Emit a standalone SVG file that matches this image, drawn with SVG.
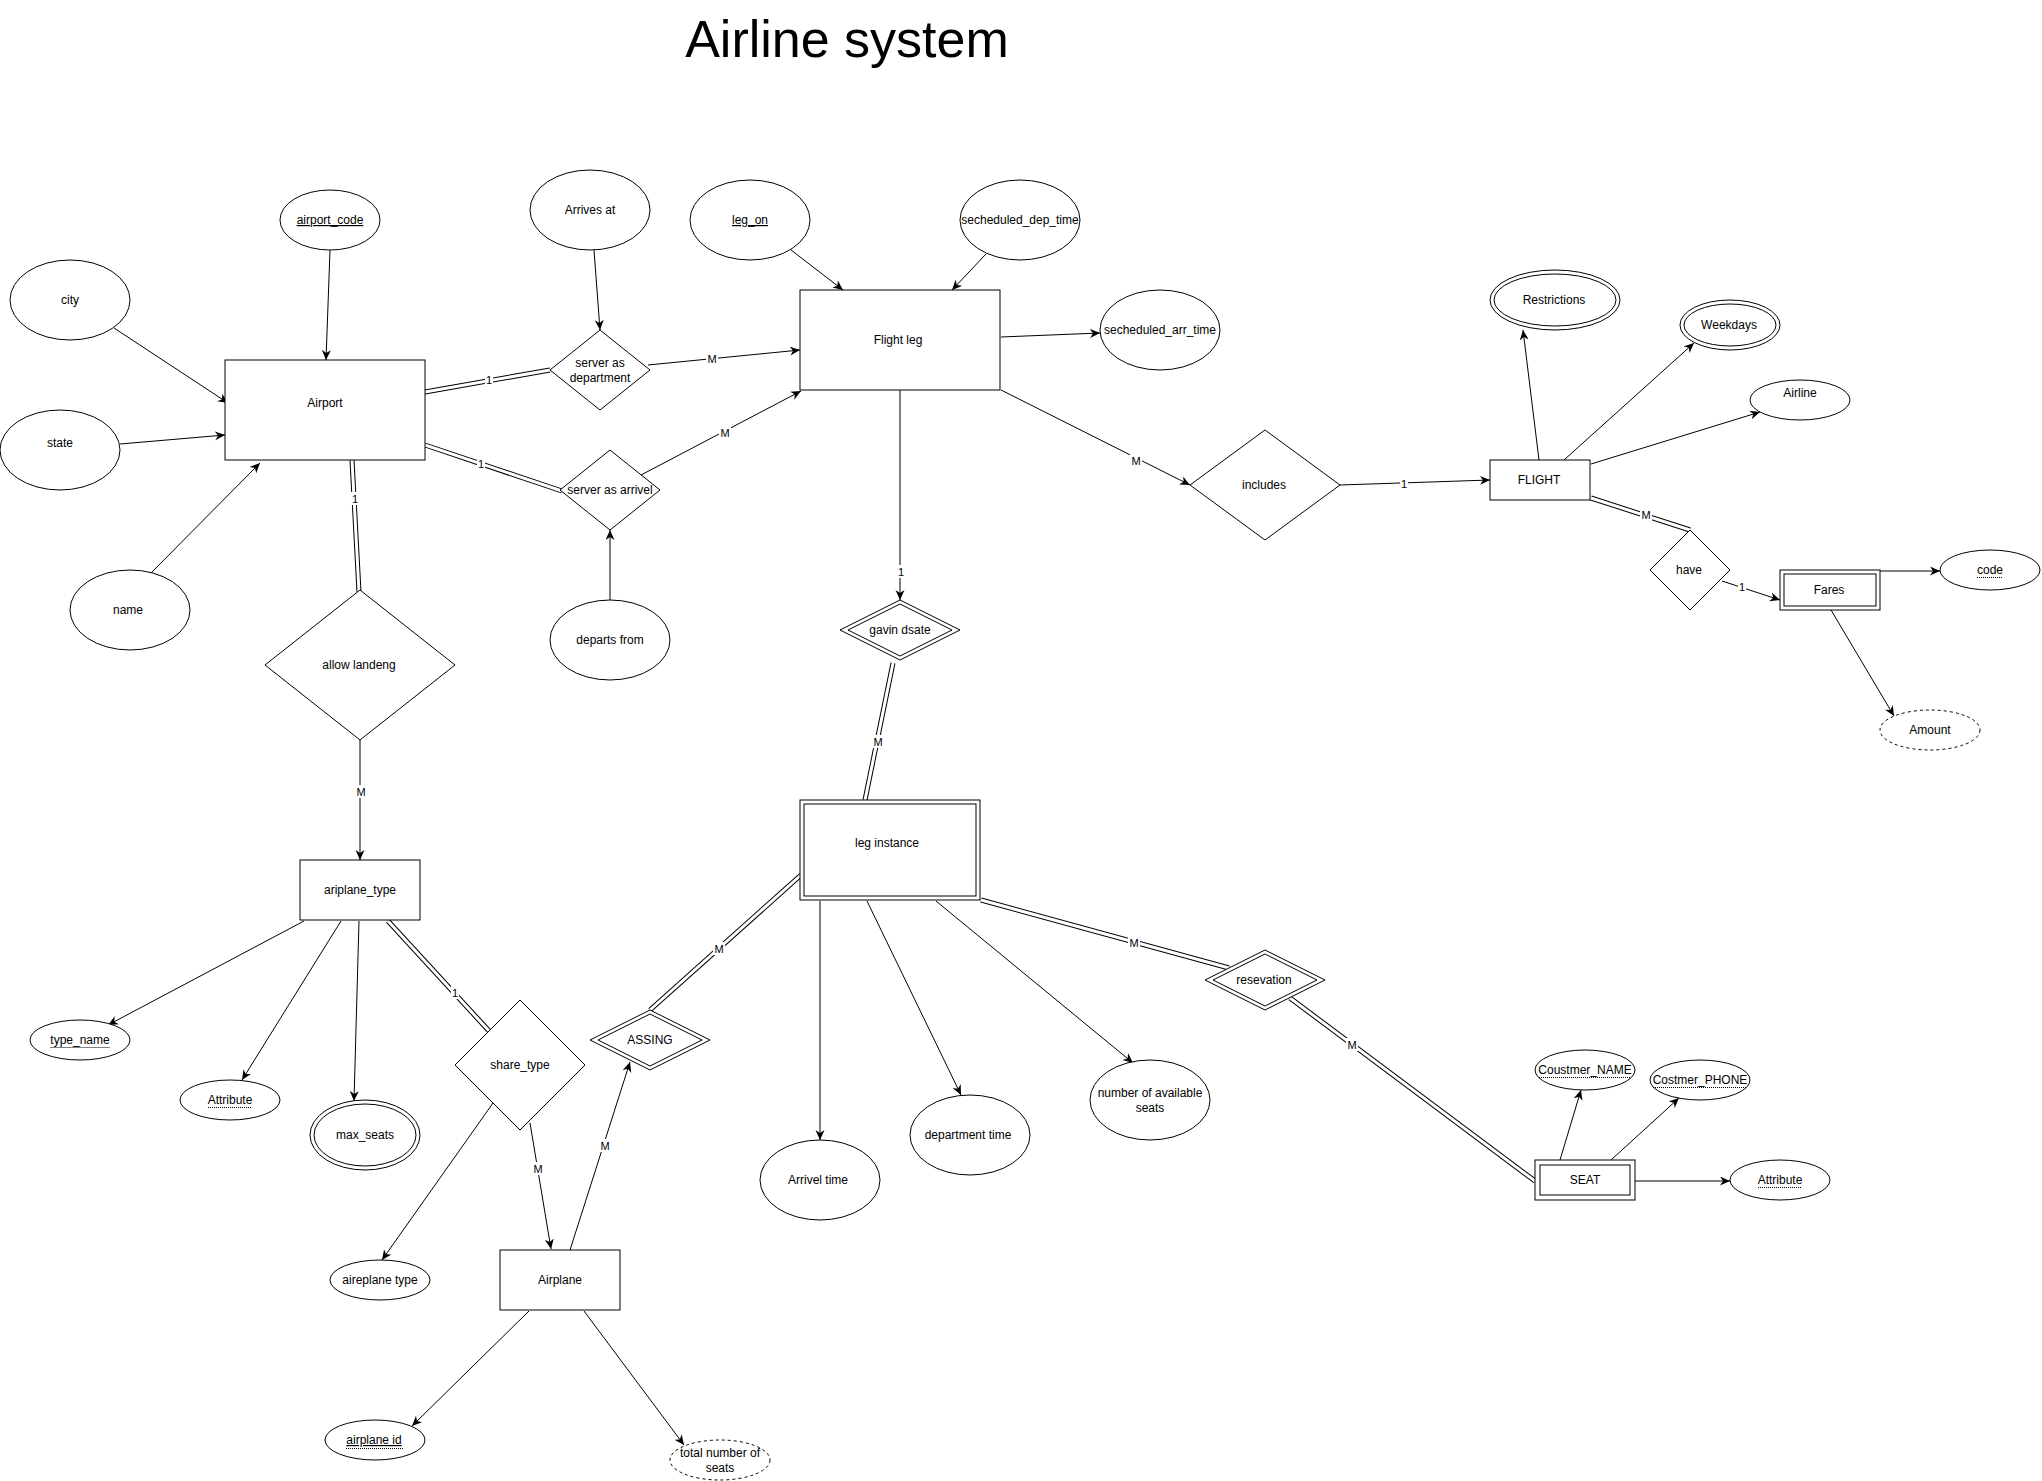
<svg xmlns="http://www.w3.org/2000/svg" width="2042" height="1481" viewBox="0 0 2042 1481">
<defs>
<marker id="arr" markerUnits="userSpaceOnUse" markerWidth="12" markerHeight="10" refX="10" refY="4.5" orient="auto">
<path d="M0,0 L10,4.5 L0,9 L3,4.5 Z" fill="#000"/>
</marker>
</defs>
<style>
text{font-family:"Liberation Sans",Arial,sans-serif;font-size:12px;fill:#000;text-anchor:middle}
.n{fill:#fff;stroke:#000;stroke-width:1}
.dash{stroke-dasharray:3,3}
.e{fill:none;stroke:#000;stroke-width:1}
.ea{fill:none;stroke:#000;stroke-width:1;marker-end:url(#arr)}
.dbo{fill:none;stroke:#000;stroke-width:5}
.dbi{fill:none;stroke:#fff;stroke-width:3}
.lb{fill:#fff}
.el{font-size:11px}
.ul{text-decoration:underline}
.dot{stroke:#000;stroke-width:1;stroke-dasharray:1,1}
.title{font-size:52px}
</style>
<rect x="0" y="0" width="2042" height="1481" fill="#fff"/>
<text class="title" x="847" y="57">Airline system</text>

<g id="connectors">
<!-- double lines -->
<path class="dbo" d="M425,392 L550,370"/><path class="dbi" d="M425,392 L550,370"/>
<path class="dbo" d="M425,445 L562,491"/><path class="dbi" d="M425,445 L562,491"/>
<path class="dbo" d="M352,460 L359,592"/><path class="dbi" d="M352,460 L359,592"/>
<path class="dbo" d="M1591,498 L1690,530"/><path class="dbi" d="M1591,498 L1690,530"/>
<path class="dbo" d="M388,921 L490,1032"/><path class="dbi" d="M388,921 L490,1032"/>
<path class="dbo" d="M650,1010 L801,875"/><path class="dbi" d="M650,1010 L801,875"/>
<path class="dbo" d="M893,663 L865,800"/><path class="dbi" d="M893,663 L865,800"/>
<path class="dbo" d="M981,900 L1229,968"/><path class="dbi" d="M981,900 L1229,968"/>
<path class="dbo" d="M1290,998 L1535,1181"/><path class="dbi" d="M1290,998 L1535,1181"/>
<!-- arrows -->
<path class="ea" d="M330,250 L326,360"/>
<path class="ea" d="M114,328 L228,403"/>
<path class="ea" d="M120,444 L225,435"/>
<path class="ea" d="M146,578 L260,463"/>
<path class="ea" d="M594,250 L600,330"/>
<path class="ea" d="M610,600 L610,530"/>
<path class="ea" d="M648,365 L800,350"/>
<path class="ea" d="M641,475 L801,391"/>
<path class="ea" d="M791,250 L843,290"/>
<path class="ea" d="M986,254 L952,290"/>
<path class="ea" d="M1001,337 L1100,333"/>
<path class="ea" d="M1001,390 L1190,485"/>
<path class="ea" d="M900,390 L900,600"/>
<path class="ea" d="M1340,485 L1490,480"/>
<path class="ea" d="M1539,460 L1523,330"/>
<path class="ea" d="M1564,460 L1694,343"/>
<path class="ea" d="M1591,464 L1760,412"/>
<path class="ea" d="M1722,581 L1780,600"/>
<path class="ea" d="M1880,571 L1940,571"/>
<path class="ea" d="M1831,610 L1894,716"/>
<path class="ea" d="M360,740 L360,860"/>
<path class="ea" d="M304,921 L108,1025"/>
<path class="ea" d="M341,921 L242,1080"/>
<path class="ea" d="M359,921 L354,1101"/>
<path class="ea" d="M493,1103 L382,1260"/>
<path class="ea" d="M530,1123 L551,1249"/>
<path class="ea" d="M570,1250 L630,1062"/>
<path class="ea" d="M529,1311 L412,1426"/>
<path class="ea" d="M584,1311 L684,1445"/>
<path class="ea" d="M820,901 L820,1140"/>
<path class="ea" d="M867,901 L961,1095"/>
<path class="ea" d="M936,901 L1133,1063"/>
<path class="ea" d="M1560,1160 L1581,1090"/>
<path class="ea" d="M1611,1160 L1679,1098"/>
<path class="ea" d="M1635,1181 L1730,1181"/>
<!-- edge labels -->
<rect class="lb" x="485" y="373" width="8" height="13"/><text class="el" x="489" y="384">1</text>
<rect class="lb" x="477" y="457" width="8" height="13"/><text class="el" x="481" y="468">1</text>
<rect class="lb" x="351" y="492" width="8" height="13"/><text class="el" x="355" y="503">1</text>
<rect class="lb" x="706" y="352" width="12" height="13"/><text class="el" x="712" y="363">M</text>
<rect class="lb" x="719" y="426" width="12" height="13"/><text class="el" x="725" y="437">M</text>
<rect class="lb" x="1130" y="454" width="12" height="13"/><text class="el" x="1136" y="465">M</text>
<rect class="lb" x="897" y="565" width="8" height="13"/><text class="el" x="901" y="576">1</text>
<rect class="lb" x="1400" y="477" width="8" height="13"/><text class="el" x="1404" y="488">1</text>
<rect class="lb" x="1640" y="508" width="12" height="13"/><text class="el" x="1646" y="519">M</text>
<rect class="lb" x="1738" y="580" width="8" height="13"/><text class="el" x="1742" y="591">1</text>
<rect class="lb" x="355" y="785" width="12" height="13"/><text class="el" x="361" y="796">M</text>
<rect class="lb" x="451" y="986" width="8" height="13"/><text class="el" x="455" y="997">1</text>
<rect class="lb" x="532" y="1162" width="12" height="13"/><text class="el" x="538" y="1173">M</text>
<rect class="lb" x="599" y="1139" width="12" height="13"/><text class="el" x="605" y="1150">M</text>
<rect class="lb" x="713" y="942" width="12" height="13"/><text class="el" x="719" y="953">M</text>
<rect class="lb" x="872" y="735" width="12" height="13"/><text class="el" x="878" y="746">M</text>
<rect class="lb" x="1128" y="936" width="12" height="13"/><text class="el" x="1134" y="947">M</text>
<rect class="lb" x="1346" y="1038" width="12" height="13"/><text class="el" x="1352" y="1049">M</text>
</g>

<!-- Airport cluster -->
<g id="airport"><rect class="n" x="225" y="360" width="200" height="100"/><text x="325" y="407">Airport</text></g>
<g id="airport_code"><ellipse class="n" cx="330" cy="220" rx="50" ry="30"/><text class="ul" x="330" y="224">airport_code </text></g>
<g id="city"><ellipse class="n" cx="70" cy="300" rx="60" ry="40"/><text x="70" y="304">city</text></g>
<g id="state"><ellipse class="n" cx="60" cy="450" rx="60" ry="40"/><text x="60" y="447">state</text></g>
<g id="name"><ellipse class="n" cx="130" cy="610" rx="60" ry="40"/><text x="128" y="614">name</text></g>
<g id="arrives_at"><ellipse class="n" cx="590" cy="210" rx="60" ry="40"/><text x="590" y="214">Arrives at</text></g>
<g id="server_as_department"><polygon class="n" points="600,330 650,370 600,410 550,370"/><text x="600" y="367">server as</text><text x="600" y="382">department</text></g>
<g id="server_as_arrivel"><polygon class="n" points="610,450 660,490 610,530 560,490"/><text x="610" y="494">server as arrivel</text></g>
<g id="departs_from"><ellipse class="n" cx="610" cy="640" rx="60" ry="40"/><text x="610" y="644">departs from</text></g>
<g id="allow_landeng"><polygon class="n" points="360,590 455,665 360,740 265,665"/><text x="359" y="669">allow landeng</text></g>

<!-- Flight leg cluster -->
<g id="flight_leg"><rect class="n" x="800" y="290" width="200" height="100"/><text x="898" y="344">Flight leg</text></g>
<g id="leg_on"><ellipse class="n" cx="750" cy="220" rx="60" ry="40"/><text class="ul" x="750" y="224">leg_on</text></g>
<g id="secheduled_dep_time"><ellipse class="n" cx="1020" cy="220" rx="60" ry="40"/><text x="1020" y="224">secheduled_dep_time</text></g>
<g id="secheduled_arr_time"><ellipse class="n" cx="1160" cy="330" rx="60" ry="40"/><text x="1160" y="334">secheduled_arr_time</text></g>
<g id="gavin_dsate"><polygon class="n" points="900,600 960,630 900,660 840,630"/><polygon class="e" points="900,604 952,630 900,656 848,630"/><text x="900" y="634">gavin dsate</text></g>
<g id="includes"><polygon class="n" points="1265,430 1340,485 1265,540 1190,485"/><text x="1264" y="489">includes</text></g>

<!-- FLIGHT cluster -->
<g id="flight"><rect class="n" x="1490" y="460" width="100" height="40"/><text x="1539" y="484">FLIGHT</text></g>
<g id="restrictions"><ellipse class="n" cx="1555" cy="300" rx="65" ry="30"/><ellipse class="e" cx="1555" cy="300" rx="61" ry="26"/><text x="1554" y="304">Restrictions</text></g>
<g id="weekdays"><ellipse class="n" cx="1730" cy="325" rx="50" ry="25"/><ellipse class="e" cx="1730" cy="325" rx="46" ry="21"/><text x="1729" y="329">Weekdays</text></g>
<g id="airline"><ellipse class="n" cx="1800" cy="400" rx="50" ry="20"/><text x="1800" y="397">Airline</text></g>
<g id="have"><polygon class="n" points="1690,530 1730,570 1690,610 1650,570"/><text x="1689" y="574">have</text></g>
<g id="fares"><rect class="n" x="1780" y="570" width="100" height="40"/><rect class="e" x="1784" y="574" width="92" height="32"/><text x="1829" y="594">Fares</text></g>
<g id="code"><ellipse class="n" cx="1990" cy="570" rx="50" ry="20"/><text x="1990" y="574">code</text><line class="dot" x1="1977" y1="577.5" x2="2003" y2="577.5"/></g>
<g id="amount"><ellipse class="n dash" cx="1930" cy="730" rx="50" ry="20"/><text x="1930" y="734">Amount</text></g>

<!-- airplane type cluster -->
<g id="ariplane_type"><rect class="n" x="300" y="860" width="120" height="60"/><text x="360" y="894">ariplane_type</text></g>
<g id="type_name"><ellipse class="n" cx="80" cy="1040" rx="50" ry="20"/><text x="80" y="1044">type_name</text><line class="dot" x1="50.5" y1="1047.5" x2="109.5" y2="1047.5"/></g>
<g id="attribute_1"><ellipse class="n" cx="230" cy="1100" rx="50" ry="20"/><text x="230" y="1104">Attribute</text><line class="dot" x1="208" y1="1107.5" x2="252" y2="1107.5"/></g>
<g id="max_seats"><ellipse class="n" cx="365" cy="1135" rx="55" ry="35"/><ellipse class="e" cx="365" cy="1135" rx="51" ry="31"/><text x="365" y="1139">max_seats</text></g>
<g id="share_type"><polygon class="n" points="520,1000 585,1065 520,1130 455,1065"/><text x="520" y="1069">share_type</text></g>
<g id="aireplane_type"><ellipse class="n" cx="380" cy="1280" rx="50" ry="20"/><text x="380" y="1284">aireplane type</text></g>
<g id="airplane"><rect class="n" x="500" y="1250" width="120" height="60"/><text x="560" y="1284">Airplane</text></g>
<g id="airplane_id"><ellipse class="n" cx="375" cy="1440" rx="50" ry="20"/><text class="ul" x="374" y="1444">airplane id </text><line class="dot" x1="346" y1="1448.5" x2="404" y2="1448.5"/></g>
<g id="total_number_of_seats"><ellipse class="n dash" cx="720" cy="1460" rx="50" ry="20"/><text x="720" y="1457">total number of</text><text x="720" y="1472">seats</text></g>
<g id="assing"><polygon class="n" points="650,1010 710,1040 650,1070 590,1040"/><polygon class="e" points="650,1014 702,1040 650,1066 598,1040"/><text x="650" y="1044">ASSING</text></g>

<!-- leg instance cluster -->
<g id="leg_instance"><rect class="n" x="800" y="800" width="180" height="100"/><rect class="e" x="804" y="804" width="172" height="92"/><text x="887" y="847">leg instance</text></g>
<g id="arrivel_time"><ellipse class="n" cx="820" cy="1180" rx="60" ry="40"/><text x="818" y="1184">Arrivel time</text></g>
<g id="department_time"><ellipse class="n" cx="970" cy="1135" rx="60" ry="40"/><text x="968" y="1139">department time</text></g>
<g id="number_of_available_seats"><ellipse class="n" cx="1150" cy="1100" rx="60" ry="40"/><text x="1150" y="1097">number of available</text><text x="1150" y="1112">seats</text></g>
<g id="resevation"><polygon class="n" points="1265,950 1325,980 1265,1010 1205,980"/><polygon class="e" points="1265,954 1317,980 1265,1006 1213,980"/><text x="1264" y="984">resevation</text></g>

<!-- SEAT cluster -->
<g id="seat"><rect class="n" x="1535" y="1160" width="100" height="40"/><rect class="e" x="1540" y="1165" width="90" height="30"/><text x="1585" y="1184">SEAT</text></g>
<g id="coustmer_name"><ellipse class="n" cx="1585" cy="1070" rx="50" ry="20"/><text x="1585" y="1074">Coustmer_NAME</text><line class="dot" x1="1539" y1="1077.5" x2="1631" y2="1077.5"/></g>
<g id="costmer_phone"><ellipse class="n" cx="1700" cy="1080" rx="50" ry="20"/><text x="1700" y="1084">Costmer_PHONE</text><line class="dot" x1="1653" y1="1087.5" x2="1747" y2="1087.5"/></g>
<g id="attribute_2"><ellipse class="n" cx="1780" cy="1180" rx="50" ry="20"/><text x="1780" y="1184">Attribute</text><line class="dot" x1="1758" y1="1187.5" x2="1802" y2="1187.5"/></g>
</svg>
